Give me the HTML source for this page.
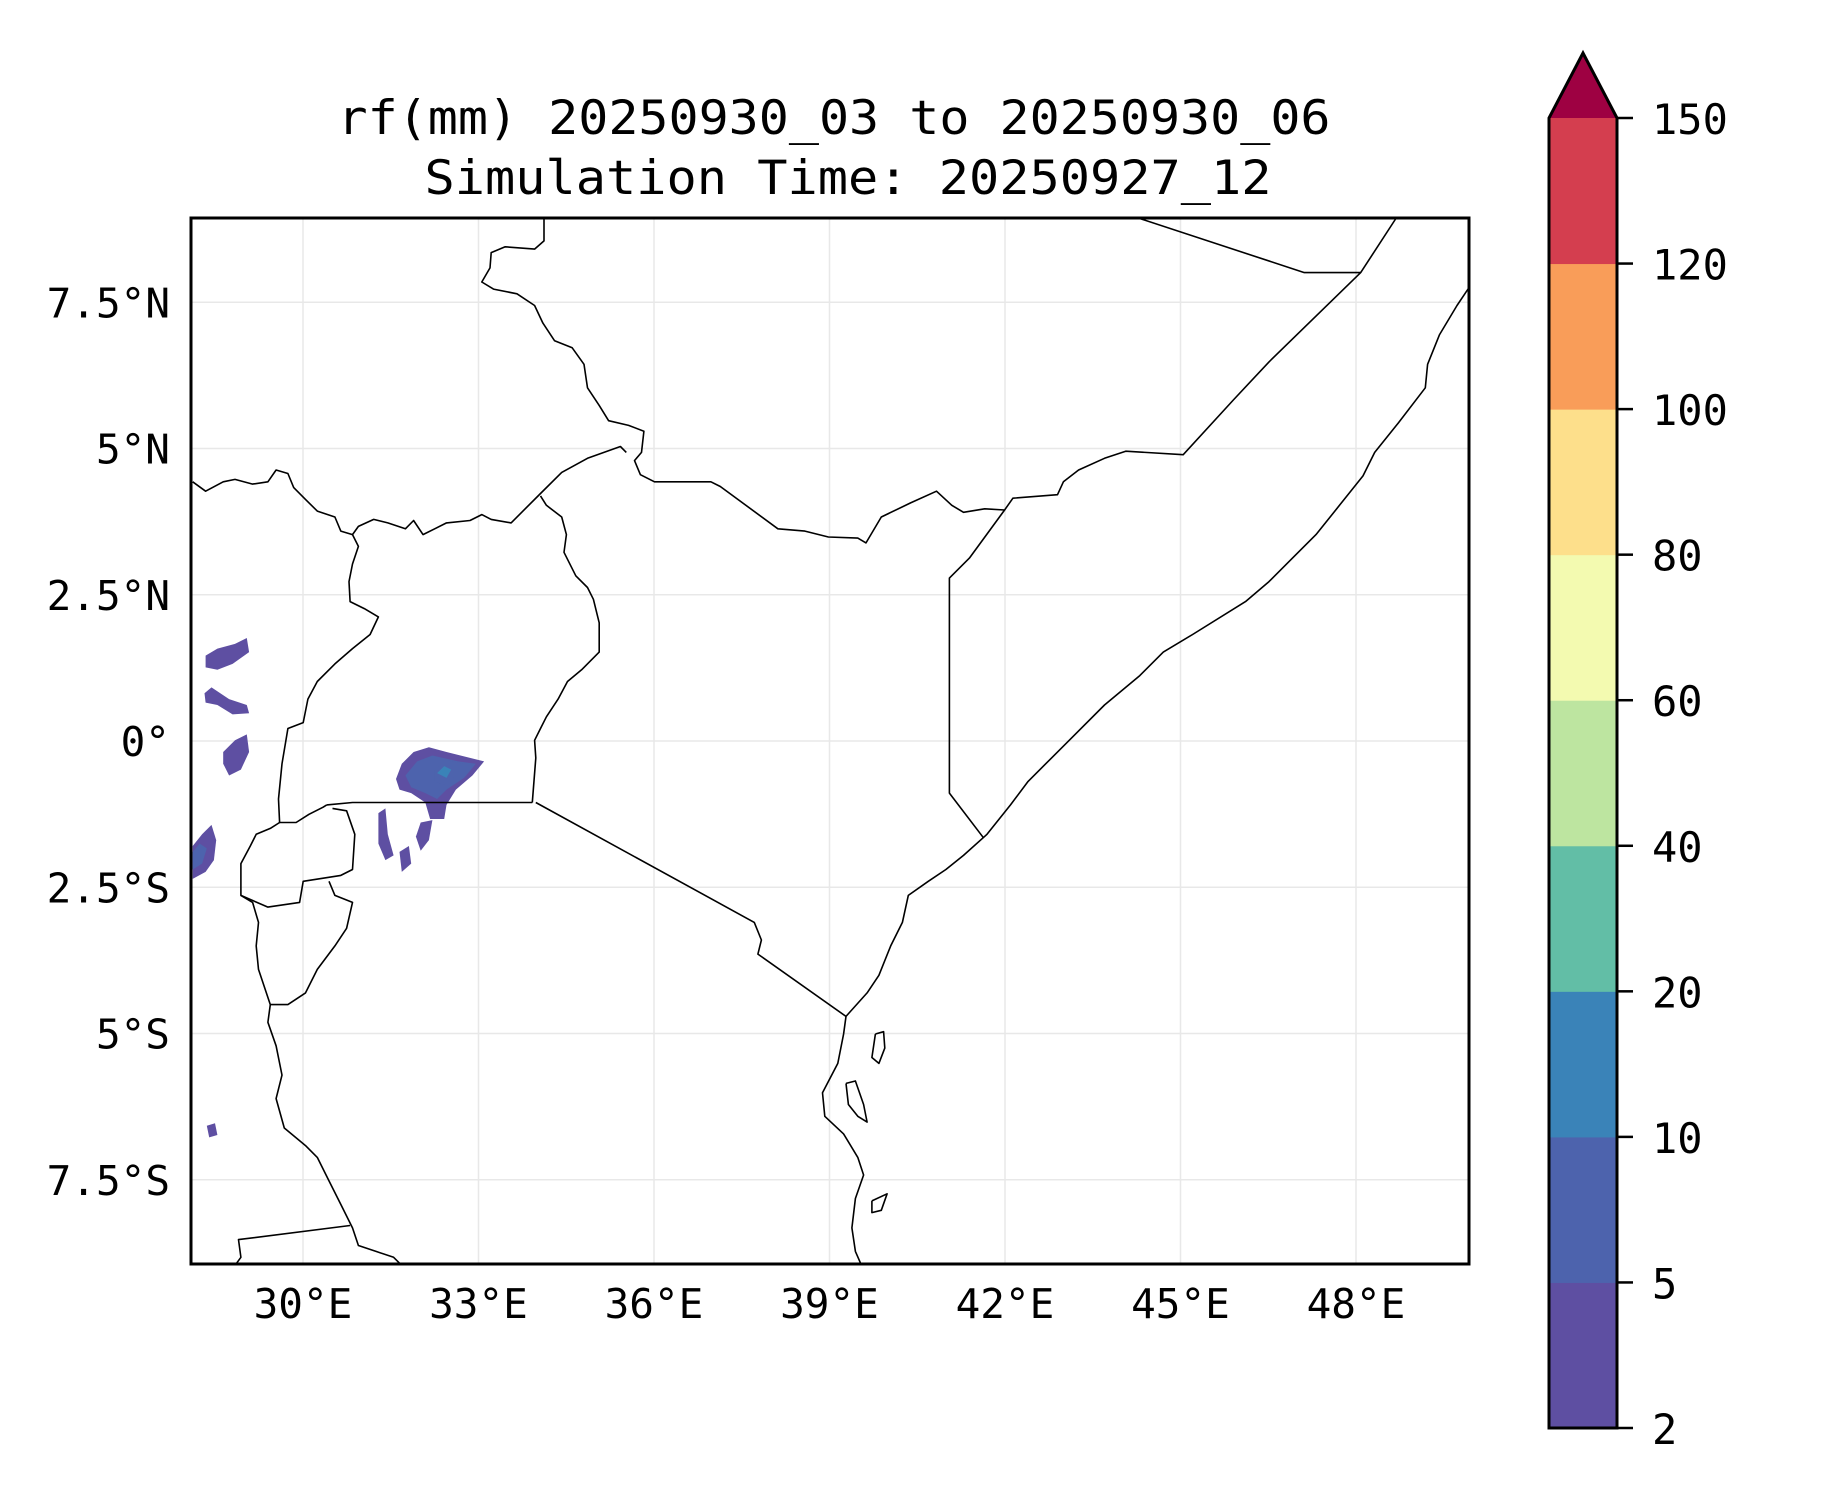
<!DOCTYPE html>
<html><head><meta charset="utf-8"><style>
html,body{margin:0;padding:0;background:#fff;}
svg{display:block;font-family:"DejaVu Sans Mono","Liberation Mono",monospace;}
</style></head><body>
<svg id="fig" width="1833" height="1500" viewBox="0 0 1833 1500">
<rect width="1833" height="1500" fill="#fff"/>
<text x="834" y="134" font-size="47" text-anchor="middle" textLength="993" lengthAdjust="spacingAndGlyphs">rf(mm) 20250930_03 to 20250930_06</text>
<text x="848" y="194" font-size="47" text-anchor="middle" textLength="847" lengthAdjust="spacingAndGlyphs">Simulation Time: 20250927_12</text>
<defs><clipPath id="mapclip"><rect x="191" y="218" width="1278" height="1046"/></clipPath></defs>
<g id="grid"></g>
<g id="rain" clip-path="url(#mapclip)"></g>
<g id="geo" clip-path="url(#mapclip)"></g>
<rect x="191" y="218" width="1278" height="1046" fill="none" stroke="#000" stroke-width="3"/>
<g id="axes"></g>
<g id="cbar"></g>
</svg>
<script>
const xTicks=[30,33,36,39,42,45,48];
const yTicks=[7.5,5,2.5,0,-2.5,-5,-7.5];
const yTickLabels=["7.5°N","5°N","2.5°N","0°","2.5°S","5°S","7.5°S"];
const cbLevels=[2,5,10,20,40,60,80,100,120,150];
const cbColors=["#5e4fa2","#4d63ad","#3a83b8","#62bea6","#bde5a0","#f3fab0","#fddf8b","#f99d59","#d43e4f"];
const cbExtendColor="#9e0142";
const geoLines=[
[[463,186],[463,205],[455,212],[430,210],[418,215],[417,228],[410,240],[420,246],[440,250],[455,260],[462,275],[472,290],[487,296],[497,310],[500,330],[510,345],[518,358],[535,362],[548,367],[546,385],[540,392],[545,404],[557,410],[605,410],[613,414],[662,450],[685,452],[705,457],[730,458],[737,462],[750,440],[775,428],[797,418],[810,430],[820,436],[838,433],[855,434],[862,424],[900,421],[905,410],[918,400],[940,390],[958,384],[1007,387],[1050,340],[1080,308],[1158,232],[1110,232],[970,186]],
[[1158,232],[1188,186]],
[[855,434],[825,475],[808,492],[808,540],[808,675],[837,713]],
[[164,410],[175,418],[190,410],[200,408],[215,412],[228,410],[235,400],[245,403],[250,415],[260,425],[270,435],[285,440],[290,452],[300,455],[305,448],[318,442],[330,445],[345,450],[352,443],[360,455],[370,450],[380,445],[400,443],[410,438],[418,442],[435,445],[460,420],[478,402],[500,390],[528,380],[533,385]],
[[460,422],[465,430],[478,440],[482,455],[480,470],[490,490],[500,500],[505,510],[510,530],[510,555],[495,570],[483,580],[475,595],[465,610],[460,620],[455,630],[456,645],[453,683]],
[[300,455],[305,465],[300,480],[297,495],[298,512],[310,518],[322,525],[315,540],[300,552],[285,565],[270,580],[262,595],[258,615],[245,620],[240,650],[237,680],[238,700],[252,700],[263,693],[275,687],[278,685]],
[[278,685],[300,683],[453,683]],
[[456,683],[642,785],[648,800],[645,812],[720,865]],
[[1257,230],[1250,245],[1240,260],[1225,285],[1215,310],[1213,330],[1190,360],[1170,385],[1160,405],[1140,430],[1120,455],[1100,475],[1080,495],[1060,512],[1015,540],[990,555],[970,575],[940,600],[915,625],[895,645],[875,665],[860,685],[840,710],[820,728],[805,740],[790,750],[773,762],[768,785],[758,805],[748,830],[738,845],[720,865],[718,880],[713,905],[700,930],[702,950],[718,965],[730,985],[735,1000],[728,1020],[725,1045],[728,1065],[735,1081]],
[[745,880],[752,878],[753,892],[748,905],[742,900],[745,880]],
[[720,922],[728,920],[735,940],[738,955],[730,950],[722,940],[720,922]],
[[742,1022],[755,1016],[750,1030],[742,1032],[742,1022]],
[[238,700],[230,705],[218,710],[213,720],[205,735],[205,762],[215,768],[220,785],[218,805],[220,825],[230,855],[228,870],[235,890],[240,915],[235,935],[242,960],[260,975],[270,985],[280,1005],[290,1025],[300,1045],[305,1060],[320,1065],[335,1070],[345,1080],[360,1082]],
[[205,762],[228,772],[255,768],[258,750],[290,745],[300,740],[302,710],[295,690],[283,688]],
[[280,750],[285,762],[300,768],[295,790],[285,805],[270,825],[260,845],[245,855],[230,855]],
[[298,1043],[203,1055],[205,1070],[197,1081]]
];
const rainLevel=[0,1,1,2,0,0,0,0,0,0,0,1,0,0];
const rainShapes=[
[[337,663],[342,650],[352,640],[365,636],[380,640],[400,645],[412,648],[402,660],[388,672],[380,685],[378,697],[366,697],[362,683],[350,675],[340,672]],
[[345,660],[355,648],[368,643],[390,648],[405,650],[395,662],[380,672],[372,680],[362,675],[350,670]],
[[370,655],[380,647],[395,650],[388,660],[378,668],[370,665]],
[[372,658],[378,652],[384,655],[380,662]],
[[322,692],[328,688],[330,710],[335,728],[328,732],[322,718]],
[[340,725],[348,720],[350,735],[342,742]],
[[358,700],[368,698],[365,715],[358,724],[354,712]],
[[175,558],[185,552],[200,548],[210,543],[212,555],[198,565],[185,570],[175,568]],
[[174,590],[180,585],[195,595],[210,600],[212,607],[198,608],[185,600],[175,598]],
[[190,640],[200,630],[210,625],[212,640],[205,655],[195,660],[190,650]],
[[164,720],[172,710],[180,702],[184,715],[182,732],[175,742],[164,748]],
[[164,725],[170,718],[176,722],[172,735],[164,740]],
[[176,958],[183,956],[185,966],[178,968]],
[[1249,268],[1252,258],[1257,252],[1257,268],[1252,273]]
];
const NS="http://www.w3.org/2000/svg";
const X0=303,Y0=741,S=58.5;
function tr(p){return [30+(p[0]*1.175-X0)/S,(Y0-p[1]*1.175)/S];}
function px(lon){return X0+(lon-30)*S;}
function py(lat){return Y0-lat*S;}
function pts(arr){return arr.map(p=>{const g=tr(p);return px(g[0]).toFixed(1)+","+py(g[1]).toFixed(1);}).join(" ");}
const grid=document.getElementById('grid'),axes=document.getElementById('axes');
xTicks.forEach(v=>{
 const l=document.createElementNS(NS,'line');
 
 
 l.setAttribute('x1',px(v));l.setAttribute('x2',px(v));l.setAttribute('y1',218);l.setAttribute('y2',1264);
 l.setAttribute('stroke','#e8e8e8');l.setAttribute('stroke-width','1.5');grid.appendChild(l);
 const t=document.createElementNS(NS,'text');
 
 
 t.setAttribute('x',px(v));t.setAttribute('y',1318);t.setAttribute('font-size','41');t.setAttribute('text-anchor','middle');
 t.textContent=v+"°E";axes.appendChild(t);
});
yTicks.forEach((v,i)=>{
 const l=document.createElementNS(NS,'line');
 
 
 l.setAttribute('x1',191);l.setAttribute('x2',1469);l.setAttribute('y1',py(v));l.setAttribute('y2',py(v));
 l.setAttribute('stroke','#e8e8e8');l.setAttribute('stroke-width','1.5');grid.appendChild(l);
 const t=document.createElementNS(NS,'text');
 
 
 t.setAttribute('x',170);t.setAttribute('y',py(v)+15);t.setAttribute('font-size','41');t.setAttribute('text-anchor','end');
 t.textContent=yTickLabels[i];axes.appendChild(t);
});
const rain=document.getElementById('rain');
rainShapes.forEach((s,i)=>{
 const p=document.createElementNS(NS,'polygon');
 
 
 p.setAttribute('points',pts(s));p.setAttribute('fill',cbColors[rainLevel[i]]);rain.appendChild(p);
});
const geo=document.getElementById('geo');
geoLines.forEach(s=>{
 const p=document.createElementNS(NS,'polyline');
 
 
 p.setAttribute('points',pts(s));p.setAttribute('fill','none');p.setAttribute('stroke','#000');p.setAttribute('stroke-width','1.6');p.setAttribute('stroke-linejoin','round');geo.appendChild(p);
});
const cb=document.getElementById('cbar');
const CBX=1549,CBW=68,CBT=118,CBB=1428;
const band=(CBB-CBT)/(cbLevels.length-1);
function cy(i){return CBB-i*band;}
cbColors.forEach((c,i)=>{
 const r=document.createElementNS(NS,'rect');
 
 
 r.setAttribute('x',CBX);r.setAttribute('y',cy(i+1));r.setAttribute('width',CBW);r.setAttribute('height',band+0.5);r.setAttribute('fill',c);cb.appendChild(r);
});
const tri=document.createElementNS(NS,'polygon');


tri.setAttribute('points',`${CBX},${CBT} ${CBX+CBW/2},53 ${CBX+CBW},${CBT}`);tri.setAttribute('fill',cbExtendColor);cb.appendChild(tri);
const outline=document.createElementNS(NS,'polygon');


outline.setAttribute('points',`${CBX},${CBB} ${CBX},${CBT} ${CBX+CBW/2},53 ${CBX+CBW},${CBT} ${CBX+CBW},${CBB}`);
outline.setAttribute('fill','none');outline.setAttribute('stroke','#000');outline.setAttribute('stroke-width','3');cb.appendChild(outline);
cbLevels.forEach((v,i)=>{
 const l=document.createElementNS(NS,'line');
 
 
 l.setAttribute('x1',CBX+CBW);l.setAttribute('x2',CBX+CBW+16);l.setAttribute('y1',cy(i));l.setAttribute('y2',cy(i));
 l.setAttribute('stroke','#000');l.setAttribute('stroke-width','2.5');cb.appendChild(l);
 const t=document.createElementNS(NS,'text');
 
 
 t.setAttribute('x',1652);t.setAttribute('y',cy(i)+16);t.setAttribute('font-size','42');
 t.textContent=v;cb.appendChild(t);
});
</script>
</body></html>
